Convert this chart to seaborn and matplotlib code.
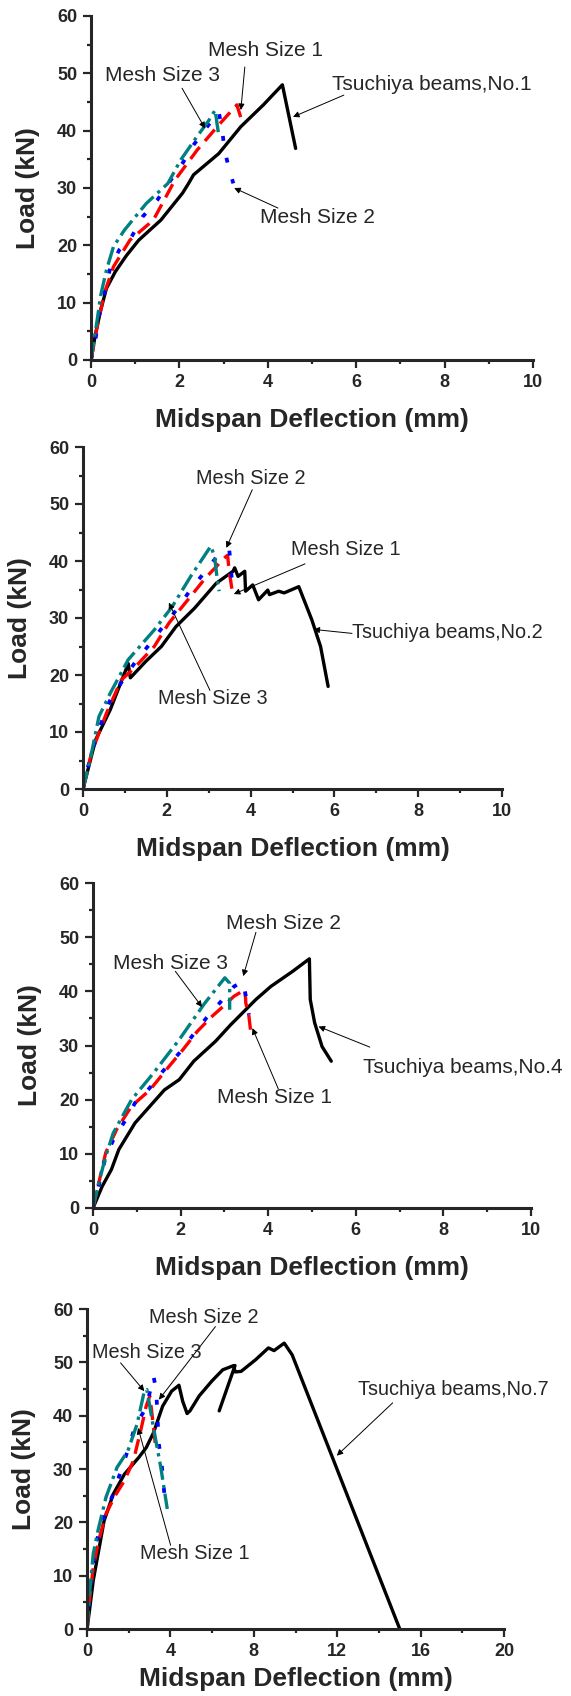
"""
Load vs midspan deflection for four Tsuchiya beams: test curve against
the FE results for three mesh sizes, stacked one panel per beam.
"""

import matplotlib.pyplot as plt
import seaborn as sns

# ---- beam No.1 -------------------------------------------------------------
B1_TEST_X = [0, 0.1, 0.22, 0.35, 0.55, 0.8, 1.08, 1.58, 2.07, 2.2, 2.32, 2.89, 3.39, 3.9, 4.33, 4.63]
B1_TEST_Y = [0, 4.5, 8.7, 12.5, 15.4, 18.2, 20.9, 24.4, 29.1, 30.7, 32.3, 36.0, 40.7, 44.5, 48.0, 36.9]
B1_MESH1_X = [0, 0.14, 0.30, 0.51, 0.88, 1.41, 1.9, 2.4, 2.89, 3.3, 3.43]
B1_MESH1_Y = [0, 5.8, 11.6, 16.3, 20.9, 24.4, 31.4, 36.6, 41.0, 44.5, 41.3]
B1_MESH2_X = [0, 0.1, 0.22, 0.35, 0.43, 0.64, 0.92, 1.17, 1.5, 1.78, 2.07, 2.32, 2.63, 2.89, 2.97, 3.01, 3.1, 3.22]
B1_MESH2_Y = [0, 3.5, 9.6, 12.8, 16.0, 19.2, 21.5, 25.0, 27.9, 31.1, 34.3, 37.5, 40.7, 43.3, 40.1, 37.2, 34.0, 30.8]
B1_MESH3_X = [0, 0.14, 0.22, 0.35, 0.51, 0.76, 1.25, 1.74, 2.03, 2.4, 2.65, 2.81, 2.85, 2.89]
B1_MESH3_Y = [0, 7.0, 11.3, 15.7, 19.8, 22.7, 27.3, 30.8, 34.9, 39.0, 41.6, 43.6, 41.3, 39.2]

# ---- beam No.2 -------------------------------------------------------------
B2_TEST_X = [0, 0.3, 0.65, 1.08, 1.13, 1.5, 1.87, 2.22, 2.66, 3.18, 3.58, 3.62, 3.7, 3.86, 3.88,
             4.05, 4.19, 4.41, 4.45, 4.67, 4.8, 5.15, 5.46, 5.67, 5.85]
B2_TEST_Y = [0, 8.6, 13.9, 22.0, 19.5, 22.4, 25.0, 28.5, 31.7, 36.1, 38.2, 38.8, 37.3, 38.2, 34.7,
             35.8, 33.2, 34.9, 34.1, 34.7, 34.4, 35.5, 29.7, 25.0, 18.0]
B2_MESH1_X = [0, 0.2, 0.56, 0.91, 1.22, 1.7, 2.05, 2.57, 2.92, 3.18, 3.32, 3.45, 3.49, 3.58]
B2_MESH1_Y = [0, 6.3, 13.3, 19.1, 21.2, 25.0, 29.1, 33.8, 37.0, 39.0, 40.2, 41.0, 38.2, 33.8]
B2_MESH2_X = [0, 0.12, 0.34, 0.65, 0.95, 1.26, 1.61, 1.91, 2.26, 2.57, 2.92, 3.23, 3.49, 3.53, 3.56]
B2_MESH2_Y = [0, 3.9, 9.8, 15.6, 19.1, 22.4, 25.6, 28.5, 31.7, 35.0, 38.2, 41.1, 42.0, 39.0, 35.5]
B2_MESH3_X = [0, 0.17, 0.38, 0.65, 1.08, 1.7, 2.13, 2.57, 3.05, 3.14, 3.2, 3.25]
B2_MESH3_Y = [0, 5.1, 12.7, 16.8, 22.7, 27.9, 32.0, 37.3, 42.6, 40.8, 37.0, 34.7]

# ---- beam No.4 -------------------------------------------------------------
B4_TEST_X = [0, 0.21, 0.42, 0.59, 0.96, 1.3, 1.63, 1.97, 2.3, 2.8, 3.14, 3.72, 4.06, 4.56, 4.94,
             4.96, 5.06, 5.23, 5.44]
B4_TEST_Y = [0, 4.0, 7.1, 10.8, 15.7, 18.8, 21.8, 23.7, 27.1, 30.8, 33.8, 38.5, 40.9, 43.7, 46.0,
             38.5, 34.2, 29.8, 27.1]
B4_MESH1_X = [0, 0.13, 0.29, 0.54, 0.88, 1.3, 1.67, 2.05, 2.38, 2.72, 2.97, 3.22, 3.47, 3.49, 3.56, 3.6]
B4_MESH1_Y = [0, 4.6, 10.2, 14.5, 18.8, 21.8, 25.5, 29.2, 32.6, 35.4, 37.2, 39.1, 40.3, 37.8, 35.4, 32.6]
B4_MESH2_X = [0, 0.11, 0.29, 0.5, 0.75, 0.96, 1.3, 1.59, 1.97, 2.26, 2.59, 2.93, 3.22, 3.43, 3.49, 3.56]
B4_MESH2_Y = [0, 3.4, 9.5, 13.2, 16.3, 19.4, 22.2, 25.2, 28.6, 31.7, 35.1, 38.2, 40.9, 41.8, 39.1, 35.7]
B4_MESH3_X = [0, 0.13, 0.29, 0.46, 0.71, 0.88, 1.38, 1.97, 2.55, 3.01, 3.12, 3.12]
B4_MESH3_Y = [0, 4.6, 9.5, 13.8, 17.5, 20.0, 24.9, 31.1, 37.8, 42.5, 41.5, 36.6]

# ---- beam No.7 -------------------------------------------------------------
B7_TEST_X = [0, 0.12, 0.3, 0.56, 0.82, 1.26, 1.79, 2.49, 2.84, 3.19, 3.63, 4.06, 4.41, 4.59, 4.8,
             4.94, 5.38, 5.99, 6.51, 7.04, 7.1, 7.39, 8.09, 8.7, 8.97, 9.46, 9.84, 15.0]
B7_TEST_Y = [0, 3.5, 9.1, 14.7, 20.3, 25.3, 29.0, 32.2, 34.0, 36.8, 41.8, 44.6, 45.7, 42.7, 40.4,
             40.9, 43.7, 46.5, 48.6, 49.4, 48.2, 48.3, 50.5, 52.7, 52.2, 53.6, 51.4, 0]
B7_TEST_BRANCH_X = [6.34, 7.1]
B7_TEST_BRANCH_Y = [40.9, 49.4]
B7_MESH1_X = [0, 0.12, 0.3, 0.56, 0.91, 1.35, 1.79, 2.22, 2.57, 2.84, 3.01, 3.1, 3.28]
B7_MESH1_Y = [0, 5.4, 11.6, 16.6, 21.6, 25.0, 27.8, 31.5, 37.1, 41.8, 43.7, 40.9, 34.6]
B7_MESH2_X = [0, 0.07, 0.21, 0.42, 0.91, 1.26, 1.52, 2.05, 2.31, 2.84, 3.19, 3.33, 3.36, 3.45, 3.57, 3.71]
B7_MESH2_Y = [0, 3.5, 9.8, 16.0, 22.2, 25.3, 28.4, 34.6, 38.1, 41.5, 47.4, 44.6, 41.2, 34.6, 31.5, 25.3]
B7_MESH3_X = [0, 0.12, 0.3, 0.53, 0.91, 1.44, 1.96, 2.4, 2.75, 2.87, 3.01, 3.19, 3.54, 3.85]
B7_MESH3_Y = [0, 6.6, 14.1, 18.5, 24.7, 30.3, 33.4, 38.4, 44.6, 44.9, 41.8, 37.7, 30.3, 22.5]

STYLES = {
    "test": dict(color="black", lw=2.4, linestyle="-"),
    "mesh1": dict(color="#ff0000", lw=2.4, linestyle=(0, (4.5, 2.4))),
    "mesh2": dict(color="#0000ff", lw=2.7, linestyle=(0, (1.3, 4.6))),
    "mesh3": dict(color="#008080", lw=2.4, linestyle=(0, (5.5, 1.6, 1.0, 1.6))),
}

FIG_W, FIG_H = 571, 1696


def draw_panel(fig, box, curves, xmax, xstep, notes, note_size=15, xlabel_gap=48):
    left, top, right, bottom = box
    ax = fig.add_axes([left / FIG_W, 1 - bottom / FIG_H,
                       (right - left) / FIG_W, (bottom - top) / FIG_H])

    for key, xs, ys in curves:
        sns.lineplot(x=xs, y=ys, sort=False, estimator=None, ax=ax, **STYLES[key])

    ax.set_xlim(0, xmax)
    ax.set_ylim(0, 60)
    ax.set_xticks(range(0, xmax + 1, xstep))
    ax.set_xticks([v + xstep / 2 for v in range(0, xmax, xstep)], minor=True)
    ax.set_yticks(range(0, 61, 10))
    ax.set_yticks(range(5, 60, 10), minor=True)
    for lab in ax.get_xticklabels() + ax.get_yticklabels():
        lab.set_fontweight("bold")
    ax.tick_params(which="major", length=6, width=1.6, labelsize=13, pad=4)
    ax.tick_params(which="minor", length=3, width=1.6)
    sns.despine(ax=ax)
    for side in ("left", "bottom"):
        ax.spines[side].set_linewidth(2.2)

    ax.set_xlabel("Midspan Deflection (mm)", fontsize=19, fontweight="bold")
    ax.set_ylabel("Load (kN)", fontsize=19, fontweight="bold")
    ax.xaxis.set_label_coords(0.5, -xlabel_gap / (bottom - top))
    ax.yaxis.set_label_coords(-51 / (right - left), 0.5)

    for text, pos, tail, head in notes:
        ax.text(pos[0], pos[1], text, fontsize=note_size, ha="center", va="center")
        ax.annotate("", xy=head, xytext=tail,
                    arrowprops=dict(arrowstyle="-|>", color="black", lw=0.7,
                                    mutation_scale=9, shrinkA=0, shrinkB=0))
    return ax


def main():
    sns.set_style("ticks")
    plt.rcParams["font.family"] = ["Liberation Sans", "DejaVu Sans"]

    fig = plt.figure(figsize=(FIG_W / 100, FIG_H / 100), dpi=100)

    draw_panel(fig, (91, 16, 533, 360),
               [("test", B1_TEST_X, B1_TEST_Y), ("mesh1", B1_MESH1_X, B1_MESH1_Y),
                ("mesh2", B1_MESH2_X, B1_MESH2_Y), ("mesh3", B1_MESH3_X, B1_MESH3_Y)],
               10, 2,
               [("Mesh Size 1", (3.94, 53.9), (3.48, 51.1), (3.39, 43.6)),
                ("Mesh Size 3", (1.61, 49.7), (2.06, 47.4), (2.58, 40.4)),
                ("Tsuchiya beams,No.1", (7.7, 48.0), (5.72, 46.2), (4.57, 42.4)),
                ("Mesh Size 2", (5.13, 24.9), (4.23, 26.5), (3.24, 30.0))],
               note_size=15)

    draw_panel(fig, (83, 447, 502, 789),
               [("test", B2_TEST_X, B2_TEST_Y), ("mesh1", B2_MESH1_X, B2_MESH1_Y),
                ("mesh2", B2_MESH2_X, B2_MESH2_Y), ("mesh3", B2_MESH3_X, B2_MESH3_Y)],
               10, 2,
               [("Mesh Size 2", (4.01, 54.4), (4.04, 52.5), (3.42, 42.3)),
                ("Mesh Size 1", (6.27, 42.0), (5.3, 39.5), (3.6, 34.2)),
                ("Tsuchiya beams,No.2", (8.7, 27.4), (6.42, 27.3), (5.5, 28.0)),
                ("Mesh Size 3", (3.11, 15.9), (3.03, 17.3), (2.05, 32.7))],
               note_size=14.3)

    draw_panel(fig, (93, 883, 531, 1208),
               [("test", B4_TEST_X, B4_TEST_Y), ("mesh1", B4_MESH1_X, B4_MESH1_Y),
                ("mesh2", B4_MESH2_X, B4_MESH2_Y), ("mesh3", B4_MESH3_X, B4_MESH3_Y)],
               10, 2,
               [("Mesh Size 2", (4.35, 52.5), (3.72, 50.9), (3.43, 42.8)),
                ("Mesh Size 3", (1.77, 45.2), (1.88, 43.7), (2.49, 37.1)),
                ("Tsuchiya beams,No.4", (8.45, 26.0), (6.32, 29.7), (5.15, 33.5)),
                ("Mesh Size 1", (4.14, 20.4), (4.23, 22.0), (3.64, 33.2))],
               note_size=15)

    draw_panel(fig, (87, 1309, 504, 1629),
               [("test", B7_TEST_X, B7_TEST_Y), ("test", B7_TEST_BRANCH_X, B7_TEST_BRANCH_Y),
                ("mesh1", B7_MESH1_X, B7_MESH1_Y), ("mesh2", B7_MESH2_X, B7_MESH2_Y),
                ("mesh3", B7_MESH3_X, B7_MESH3_Y)],
               20, 4,
               [("Mesh Size 2", (5.62, 58.4), (6.16, 56.7), (3.45, 43.0)),
                ("Mesh Size 3", (2.87, 51.9), (1.61, 49.9), (2.75, 44.6)),
                ("Tsuchiya beams,No.7", (17.57, 44.9), (14.66, 42.4), (11.98, 32.5)),
                ("Mesh Size 1", (5.15, 14.1), (4.01, 15.7), (2.45, 37.7))],
               note_size=14.3, xlabel_gap=38)

    fig.savefig("out.png", dpi=100)
    plt.close(fig)


if __name__ == "__main__":
    main()
